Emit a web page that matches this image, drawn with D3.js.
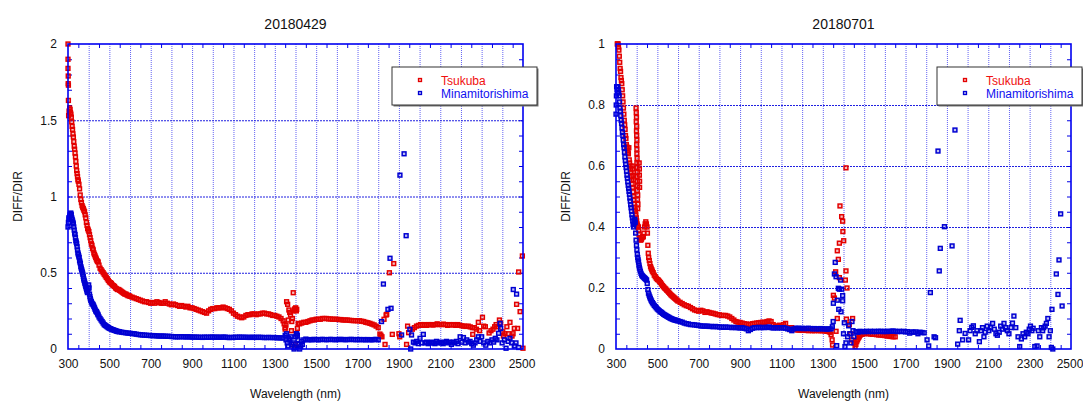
<!DOCTYPE html>
<html>
<head>
<meta charset="utf-8">
<script src="https://cdn.jsdelivr.net/npm/d3@7"></script>
<style>
body{margin:0;background:#fff;}
text{font-family:"Liberation Sans",Arial,sans-serif;fill:#111;}
</style>
</head>
<body>
<div id="chart"></div>
<script>
// DIFF/DIR ratio against wavelength, two observation days, two sites

const seriesNames = ['Tsukuba', 'Minamitorishima']
const seriesColors = ['#e30000', '#0000d2']
const xTicks = [300, 500, 700, 900, 1100, 1300, 1500, 1700, 1900, 2100, 2300, 2500]
const yTicks0429 = [0, 0.5, 1, 1.5, 2]
const yTicks0701 = [0, 0.2, 0.4, 0.6, 0.8, 1]

// 2018-04-29, Tsukuba  [nm, DIFF/DIR]
const tsukuba0429 = [
  [300,2.0],[300,1.9],[300,1.84],[301,1.79],[301,1.74],[302,1.73],[302,1.63],[303,1.53],
  [305,1.56],[308,1.58],[310,1.57],[312,1.55],[314,1.54],[316,1.52],[318,1.49],[320,1.46],[322,1.44],[324,1.41],
  [326,1.39],[328,1.36],[330,1.33],[332,1.31],[334,1.285],[336,1.26],[338,1.23],[340,1.2],[342,1.17],[344,1.15],
  [346,1.13],[348,1.11],[350,1.1],[353,1.08],[356,1.05],[359,1.01],[362,0.98],[365,0.96],[368,0.94],[371,0.93],
  [374,0.92],[377,0.91],[380,0.9],[383,0.88],[386,0.86],[389,0.83],[392,0.81],[395,0.79],[398,0.78],[401,0.77],
  [404,0.75],[407,0.73],[410,0.71],[413,0.69],[416,0.68],[419,0.66],[422,0.65],[425,0.63],[428,0.62],[431,0.61],
  [434,0.6],[437,0.59],[440,0.58],[443,0.575],[446,0.57],[450,0.55],[455,0.53],[460,0.52],[465,0.51],[470,0.5],
  [475,0.49],[480,0.48],[485,0.47],[490,0.46],[495,0.45],[500,0.44],[505,0.435],[510,0.43],[515,0.42],[520,0.415],
  [525,0.41],[530,0.4],[535,0.395],[540,0.39],[545,0.39],[550,0.385],[555,0.38],[560,0.375],[565,0.37],[570,0.365],
  [575,0.36],[580,0.36],[585,0.355],[590,0.35],[595,0.35],[600,0.345],[610,0.34],[620,0.335],[630,0.33],[640,0.325],
  [650,0.32],[660,0.315],[670,0.31],[680,0.31],[690,0.305],[700,0.3],[710,0.305],[720,0.3],[730,0.31],[740,0.305],
  [750,0.3],[760,0.3],[770,0.31],[780,0.3],[790,0.295],[800,0.29],[810,0.295],[820,0.29],[830,0.285],[840,0.28],
  [850,0.285],[860,0.28],[870,0.275],[880,0.28],[890,0.27],[900,0.27],[910,0.265],[920,0.26],[930,0.255],[940,0.25],
  [950,0.245],[960,0.24],[970,0.235],[980,0.25],[990,0.26],[1000,0.265],[1010,0.265],[1020,0.27],[1030,0.27],
  [1040,0.27],[1050,0.275],[1060,0.27],[1070,0.265],[1080,0.26],[1090,0.25],[1100,0.235],[1110,0.225],[1120,0.215],
  [1130,0.21],[1140,0.205],[1150,0.21],[1160,0.22],[1170,0.225],[1180,0.225],[1190,0.23],[1200,0.23],[1210,0.225],
  [1220,0.23],[1230,0.23],[1240,0.235],[1250,0.235],[1260,0.23],[1270,0.23],[1280,0.225],[1290,0.22],[1300,0.22],
  [1310,0.215],[1320,0.21],[1330,0.2],[1340,0.185],[1345,0.165],[1350,0.14],
  [1350,0.13],[1354,0.157],[1357,0.31],[1362,0.293],[1365,0.19],[1368,0.256],[1372,0.24],[1376,0.223],[1380,0.12],
  [1382,0.18],[1385,0.2],[1389,0.369],[1392,0.25],[1393,0.01],[1395,0.26],[1398,0.265],[1399,0.03],[1401,0.27],
  [1404,0.25],[1406,0.26],[1409,0.135],
  [1413,0.168],[1420,0.165],[1430,0.17],[1440,0.175],[1450,0.175],[1460,0.18],[1470,0.185],[1480,0.19],[1490,0.19],
  [1500,0.195],[1510,0.195],[1520,0.195],[1530,0.2],[1540,0.2],[1550,0.2],[1560,0.197],[1570,0.197],[1580,0.195],
  [1590,0.195],[1600,0.195],[1610,0.193],[1620,0.193],[1630,0.19],[1640,0.19],[1650,0.19],[1660,0.188],[1670,0.187],
  [1680,0.186],[1690,0.186],[1700,0.185],[1710,0.185],[1720,0.182],[1730,0.18],[1740,0.175],[1750,0.172],[1760,0.168],
  [1770,0.163],[1780,0.158],[1790,0.15],[1800,0.14],
  [1808,0.098],[1813,0.09],[1818,0.08],[1828,0.195],[1833,0.03],[1838,0.223],[1841,0.227],[1854,0.5],[1868,0.096],
  [1875,0.56],[1900,0.1],[1904,0.08],[1937,0.03],[1942,0.15],[1947,0.107],
  [1965,0.13],[1975,0.14],[1985,0.15],[1995,0.155],[2005,0.16],[2015,0.155],[2025,0.16],[2035,0.155],[2045,0.16],
  [2055,0.16],[2065,0.157],[2075,0.16],[2085,0.165],[2095,0.16],[2105,0.16],[2115,0.163],[2125,0.16],[2135,0.155],
  [2145,0.16],[2155,0.157],[2165,0.16],[2175,0.155],[2185,0.16],[2195,0.155],[2205,0.152],[2215,0.15],[2225,0.148],
  [2235,0.15],[2245,0.145],[2255,0.14],[2265,0.14],[2275,0.13],
  [2257,0.096],[2284,0.175],[2290,0.12],[2304,0.208],[2310,0.15],[2318,0.146],[2336,0.105],[2345,0.12],[2355,0.13],
  [2363,0.146],[2370,0.16],[2379,0.146],[2386,0.19],[2392,0.17],[2402,0.113],[2405,0.085],[2412,0.1],[2422,0.146],
  [2430,0.1],[2437,0.175],[2447,0.085],[2452,0.1],[2458,0.135],[2469,0.293],[2474,0.135],[2479,0.505],[2486,0.245],
  [2497,0.61],[2500,0.005]
]

// 2018-04-29, Minamitorishima
const minami0429 = [
  [300,0.8],[302,0.83],[304,0.86],[306,0.85],[308,0.87],[310,0.88],[312,0.89],[314,0.89],[316,0.88],[318,0.86],
  [320,0.85],[322,0.84],[324,0.83],[326,0.82],[328,0.8],[330,0.78],[332,0.76],[334,0.75],[336,0.73],[338,0.71],
  [340,0.7],[342,0.69],[344,0.67],[346,0.65],[348,0.63],[350,0.62],[352,0.61],[354,0.6],[356,0.58],[358,0.57],
  [360,0.56],[362,0.54],[364,0.53],[366,0.52],[368,0.51],[370,0.5],[372,0.49],[374,0.475],[376,0.46],[378,0.45],
  [380,0.44],[382,0.43],[384,0.42],[386,0.41],[388,0.4],[390,0.39],[392,0.38],[394,0.37],[396,0.38],[398,0.4],
  [400,0.42],[402,0.4],[404,0.36],[406,0.343],[408,0.33],[410,0.32],[413,0.31],[416,0.3],[419,0.295],[422,0.289],
  [425,0.28],[428,0.27],[431,0.26],[434,0.25],[437,0.245],[440,0.24],[443,0.23],[446,0.223],[450,0.21],[455,0.2],
  [460,0.19],[465,0.18],[470,0.17],[475,0.16],[480,0.155],[485,0.15],[490,0.145],[495,0.14],[500,0.136],[505,0.133],
  [510,0.13],[515,0.127],[520,0.125],[525,0.122],[530,0.12],[535,0.117],[540,0.115],[545,0.114],[550,0.113],
  [560,0.11],[570,0.108],[580,0.106],[590,0.104],[600,0.103],[610,0.101],[620,0.1],[630,0.097],[640,0.095],
  [650,0.093],[660,0.092],[670,0.091],[680,0.09],[690,0.089],[700,0.088],[710,0.088],[720,0.087],[730,0.086],
  [740,0.085],[750,0.085],[760,0.085],[770,0.084],[780,0.083],[790,0.083],[800,0.082],[810,0.081],[820,0.08],
  [830,0.08],[840,0.08],[850,0.081],[860,0.08],[870,0.079],[880,0.08],[890,0.079],[900,0.078],[910,0.078],
  [920,0.078],[930,0.077],[940,0.077],[950,0.076],[960,0.078],[970,0.077],[980,0.077],[990,0.078],[1000,0.078],
  [1010,0.077],[1020,0.078],[1030,0.077],[1040,0.077],[1050,0.078],[1060,0.078],[1070,0.076],[1080,0.075],
  [1090,0.076],[1100,0.076],[1110,0.077],[1120,0.077],[1130,0.078],[1140,0.077],[1150,0.077],[1160,0.077],
  [1170,0.076],[1180,0.076],[1190,0.077],[1200,0.076],[1210,0.076],[1220,0.077],[1230,0.076],[1240,0.076],
  [1250,0.075],[1260,0.075],[1270,0.076],[1280,0.075],[1290,0.075],[1300,0.075],[1310,0.074],[1320,0.073],
  [1330,0.073],[1340,0.072],
  [1350,0.09],[1354,0.06],[1357,0.1],[1360,0.04],[1365,0.02],[1368,0.07],[1373,0.06],[1378,0.08],[1382,0.03],
  [1389,0.04],[1393,0.0],[1397,0.01],[1401,0.08],[1404,0.1],[1406,0.1],[1409,0.09],[1412,0.06],[1416,0.03],
  [1420,0.0],[1425,0.015],[1429,0.05],[1433,0.03],
  [1440,0.06],[1450,0.065],[1460,0.06],[1470,0.062],[1480,0.06],[1490,0.063],[1500,0.062],[1510,0.06],[1520,0.062],
  [1530,0.063],[1540,0.062],[1550,0.061],[1560,0.062],[1570,0.063],[1580,0.062],[1590,0.061],[1600,0.062],
  [1610,0.062],[1620,0.063],[1630,0.062],[1640,0.061],[1650,0.062],[1660,0.062],[1670,0.063],[1680,0.062],
  [1690,0.061],[1700,0.062],[1710,0.062],[1720,0.061],[1730,0.062],[1740,0.06],[1750,0.062],[1760,0.061],
  [1770,0.06],[1780,0.062],[1789,0.063],[1800,0.06],
  [1816,0.18],[1825,0.426],[1847,0.26],[1857,0.595],[1862,0.267],[1905,1.14],[1913,0.092],[1925,1.28],[1935,0.743],
  [1953,0.129],[1957,0.0],[1961,0.092],
  [1970,0.045],[1978,0.04],[1986,0.05],[1994,0.035],[2002,0.07],[2010,0.04],[2018,0.096],[2026,0.04],[2034,0.045],
  [2042,0.035],[2050,0.04],[2058,0.045],[2066,0.04],[2074,0.035],[2082,0.05],[2090,0.04],[2098,0.045],[2106,0.04],
  [2114,0.035],[2122,0.045],[2130,0.05],[2138,0.04],[2146,0.045],[2154,0.03],[2162,0.045],[2170,0.04],[2178,0.05],
  [2186,0.035],[2196,0.08],[2204,0.045],[2212,0.075],[2220,0.04],[2228,0.06],[2236,0.045],
  [2244,0.05],[2252,0.035],[2260,0.025],[2268,0.04],[2276,0.06],[2284,0.08],[2292,0.05],[2300,0.08],[2310,0.04],
  [2320,0.025],[2330,0.05],[2340,0.04],[2350,0.06],[2358,0.045],[2366,0.07],[2374,0.06],[2382,0.103],[2389,0.168],
  [2392,0.135],[2399,0.04],[2410,0.06],[2418,0.005],[2428,0.05],[2437,0.07],[2445,0.04],[2453,0.39],[2458,0.02],
  [2466,0.04],[2469,0.36],[2479,0.01]
]

// 2018-07-01, Tsukuba
const tsukuba0701 = [
  [306,1.0],[308,1.0],[310,1.0],[312,0.99],[314,0.98],[316,0.96],[318,0.94],[320,0.92],[322,0.91],[324,0.89],
  [326,0.88],[328,0.87],[330,0.85],[332,0.83],[334,0.81],[336,0.79],[338,0.77],[340,0.75],[342,0.735],[344,0.72],
  [346,0.7],[348,0.69],[350,0.67],[352,0.663],[354,0.66],[356,0.65],[358,0.645],[360,0.64],[362,0.66],[364,0.62],
  [366,0.61],[368,0.6],[370,0.59],[372,0.58],[374,0.565],[376,0.554],[378,0.54],[380,0.53],[382,0.515],[384,0.5],
  [386,0.49],[388,0.475],[390,0.465],[392,0.456],[394,0.45],[396,0.44],[398,0.43],[400,0.42],[402,0.41],[404,0.405],
  [406,0.4],[408,0.4],[410,0.39],[412,0.375],[414,0.365],[416,0.36],[418,0.358],[420,0.357],[423,0.36],[426,0.365],
  [429,0.368],[432,0.368],[435,0.38],[438,0.4],[441,0.41],[444,0.417],[447,0.41],[450,0.4],[452,0.38],[454,0.34],
  [456,0.314],[458,0.3],[461,0.29],[464,0.28],[467,0.27],[470,0.265],[473,0.26],[476,0.255],[480,0.25],[485,0.242],
  [490,0.237],[495,0.232],[500,0.228],[505,0.226],[510,0.222],[515,0.218],[520,0.213],[525,0.208],[530,0.204],
  [535,0.2],[540,0.197],[545,0.193],[550,0.19],[555,0.186],[560,0.182],[565,0.178],[570,0.175],[575,0.172],
  [580,0.169],[585,0.166],[590,0.163],[595,0.16],[600,0.157],[610,0.153],[620,0.149],[630,0.145],[640,0.142],
  [650,0.14],[660,0.136],[670,0.132],[680,0.128],[690,0.126],[700,0.124],[710,0.127],[720,0.125],[730,0.12],
  [740,0.122],[750,0.12],[760,0.118],[770,0.117],[780,0.115],[790,0.113],[800,0.112],[810,0.11],[820,0.11],
  [830,0.11],[840,0.108],[850,0.105],[860,0.1],[870,0.095],[880,0.09],[890,0.088],[900,0.087],[910,0.085],
  [920,0.083],[930,0.082],[940,0.08],[950,0.081],[960,0.083],[970,0.084],[980,0.085],[990,0.086],[1000,0.087],
  [1010,0.088],[1020,0.087],[1030,0.09],[1040,0.092],[1050,0.09],[1060,0.08],[1070,0.075],[1080,0.075],[1090,0.078],
  [1100,0.075],[1110,0.08],[1120,0.084],[1130,0.07],[1140,0.064],[1150,0.07],[1160,0.065],[1170,0.063],[1180,0.062],
  [1190,0.062],[1200,0.061],[1210,0.062],[1220,0.061],[1230,0.06],[1240,0.061],[1250,0.06],[1260,0.06],[1270,0.061],
  [1280,0.06],[1290,0.06],[1300,0.06],[1310,0.059],[1320,0.058],[1330,0.057],[1335,0.055],[1340,0.047],[1345,0.03],
  [1347,0.013],
  [397,0.79],[398,0.775],[399,0.76],[398,0.745],[400,0.73],[399,0.715],[400,0.7],[401,0.685],[400,0.67],[401,0.655],
  [401,0.64],[402,0.625],[401,0.61],[402,0.595],[403,0.58],[402,0.565],[403,0.55],[404,0.535],[403,0.52],[405,0.505],
  [404,0.49],[406,0.475],[405,0.46],[412,0.61],[413,0.59],[413,0.57],[414,0.55],[414,0.53],
  [378,0.6],[380,0.59],[382,0.57],[385,0.555],
  [1351,0.176],[1356,0.167],[1362,0.253],[1364,0.058],[1370,0.322],[1370,0.1],[1375,0.294],[1380,0.347],[1380,0.234],
  [1383,0.469],[1391,0.434],[1396,0.419],[1397,0.385],[1401,0.355],[1409,0.226],[1412,0.594],[1412,0.256],
  [1414,0.098],[1417,0.2],[1428,0.08],[1435,0.05],[1440,0.03],[1444,0.1],[1450,0.02],
  [1456,0.008],[1460,0.015],[1464,0.024],[1468,0.03],[1472,0.036],[1476,0.04],[1480,0.045],[1490,0.048],[1500,0.05],
  [1510,0.051],[1520,0.05],[1530,0.049],[1540,0.048],[1550,0.048],[1560,0.047],[1570,0.046],[1580,0.046],
  [1590,0.045],[1600,0.044],[1610,0.043],[1620,0.042],[1630,0.041],[1640,0.04],[1650,0.04]
]

// 2018-07-01, Minamitorishima
const minami0701 = [
  [300,0.77],[301,0.8],[302,0.83],[303,0.86],[305,0.85],[307,0.84],[309,0.86],[311,0.85],[313,0.84],[315,0.83],
  [317,0.81],[319,0.79],[321,0.78],[323,0.765],[325,0.75],[327,0.74],[329,0.725],[331,0.71],[333,0.7],[335,0.685],
  [337,0.67],[339,0.66],[341,0.645],[343,0.63],[345,0.618],[347,0.605],[349,0.595],[351,0.583],[353,0.57],
  [355,0.56],[357,0.548],[359,0.537],[361,0.527],[363,0.517],[365,0.507],[367,0.495],[369,0.485],[371,0.473],
  [373,0.463],[375,0.452],[377,0.44],[379,0.43],[381,0.42],[383,0.408],[385,0.4],[387,0.41],[389,0.42],[391,0.425],
  [393,0.415],[395,0.38],[397,0.357],[399,0.34],[401,0.325],[403,0.31],[405,0.3],[407,0.292],[409,0.285],[411,0.275],
  [413,0.268],[415,0.262],[418,0.255],[421,0.248],[424,0.243],[427,0.24],[430,0.238],[433,0.236],[436,0.234],
  [439,0.232],[442,0.23],[445,0.228],[448,0.226],[451,0.215],[454,0.195],[457,0.183],[460,0.177],[463,0.171],
  [466,0.166],[469,0.161],[472,0.157],[476,0.152],[480,0.148],[485,0.143],[490,0.139],[495,0.135],[500,0.131],
  [505,0.128],[510,0.125],[515,0.122],[520,0.12],[525,0.117],[530,0.114],[535,0.112],[540,0.11],[545,0.108],
  [550,0.106],[555,0.104],[560,0.102],[565,0.1],[570,0.099],[575,0.097],[580,0.096],[585,0.095],[590,0.094],
  [595,0.093],[600,0.092],[610,0.09],[620,0.088],[630,0.085],[640,0.083],[650,0.082],[660,0.08],[670,0.08],
  [680,0.079],[690,0.078],[700,0.077],[710,0.076],[720,0.075],[730,0.075],[740,0.075],[750,0.074],[760,0.074],
  [770,0.073],[780,0.074],[790,0.073],[800,0.072],[810,0.072],[820,0.071],[830,0.072],[840,0.071],[850,0.071],
  [860,0.07],[870,0.071],[880,0.07],[890,0.07],[900,0.069],[910,0.07],[920,0.068],[930,0.066],[940,0.06],
  [950,0.064],[960,0.068],[970,0.07],[980,0.07],[990,0.071],[1000,0.07],[1010,0.071],[1020,0.07],[1030,0.071],
  [1040,0.072],[1050,0.07],[1060,0.069],[1070,0.07],[1080,0.069],[1090,0.07],[1100,0.069],[1110,0.07],[1120,0.068],
  [1130,0.066],[1140,0.064],[1150,0.06],[1160,0.066],[1170,0.068],[1180,0.068],[1190,0.067],[1200,0.068],
  [1210,0.067],[1220,0.067],[1230,0.068],[1240,0.067],[1250,0.066],[1260,0.067],[1270,0.066],[1280,0.066],
  [1290,0.067],[1300,0.066],[1310,0.066],[1320,0.065],[1330,0.066],[1340,0.066],
  [1346,0.073],[1350,0.09],[1351,0.15],[1356,0.246],[1360,0.284],[1364,0.237],[1367,0.011],[1370,0.16],[1375,0.199],
  [1377,0.13],[1380,0.196],[1386,0.226],[1388,0.122],[1391,0.196],[1396,0.175],[1396,0.158],[1400,0.05],
  [1404,0.086],[1407,0.008],[1412,0.02],[1420,0.04],[1425,0.076],[1430,0.05],[1436,0.02],[1441,0.09],[1446,0.06],
  [1450,0.04],
  [1460,0.057],[1470,0.055],[1480,0.058],[1490,0.057],[1500,0.057],[1510,0.058],[1520,0.057],[1530,0.058],
  [1540,0.057],[1550,0.058],[1560,0.057],[1570,0.058],[1580,0.058],[1590,0.057],[1600,0.058],[1610,0.057],
  [1620,0.058],[1630,0.058],[1640,0.059],[1650,0.058],[1660,0.057],[1670,0.058],[1680,0.057],[1690,0.058],
  [1700,0.056],[1710,0.057],[1720,0.052],[1730,0.056],[1740,0.055],[1750,0.056],[1760,0.05],[1770,0.055],
  [1780,0.054],[1790,0.053],
  [1804,0.03],[1812,0.01],[1820,0.185],[1838,0.04],[1845,0.037],[1857,0.649],[1863,0.256],[1868,0.33],[1888,0.401],
  [1925,0.338],[1939,0.718],[1952,0.016],[1960,0.06],[1964,0.094],[1976,0.03],[1988,0.051],[2005,0.03],[2012,0.06],
  [2020,0.071],[2028,0.076],[2037,0.05],[2045,0.06],[2057,0.024],[2065,0.06],[2072,0.07],[2079,0.04],[2085,0.055],
  [2095,0.075],[2103,0.06],[2111,0.07],[2121,0.084],[2129,0.065],[2137,0.05],[2144,0.045],[2153,0.055],[2160,0.075],
  [2168,0.065],[2176,0.084],[2184,0.07],[2192,0.06],[2200,0.05],[2210,0.07],[2217,0.085],[2224,0.108],[2233,0.07],
  [2244,0.04],[2252,0.008],[2260,0.033],[2268,0.05],[2276,0.04],[2284,0.055],[2292,0.05],[2298,0.065],[2304,0.075],
  [2311,0.06],[2317,0.068],[2325,0.008],[2336,0.01],[2342,0.06],[2349,0.04],[2357,0.07],[2363,0.06],[2368,0.07],
  [2375,0.075],[2381,0.084],[2388,0.1],[2394,0.04],[2400,0.06],[2405,0.005],[2408,0.13],[2412,0.0],[2429,0.246],
  [2437,0.179],[2442,0.292],[2450,0.443],[2457,0.141]
]

const W = 1083, H = 401
const plotW = 455, plotH = 305, plotTop = 44

const svg = d3.select('#chart').append('svg')
  .attr('width', W)
  .attr('height', H)
svg.append('rect').attr('width', W).attr('height', H).attr('fill', '#fff')

function drawPanel(left, title, yMax, yTicks, yMinor, series, legendX, id){
  const x = d3.scaleLinear().domain([300, 2500]).range([0, plotW])
  const y = d3.scaleLinear().domain([0, yMax]).range([plotH, 0])

  const g = svg.append('g')
    .attr('transform', 'translate(' + left + ',' + plotTop + ')')

  // vertical grid every 100 nm
  g.append('g')
    .attr('class', 'gridX')
    .attr('transform', 'translate(0,' + plotH + ')')
    .call(d3.axisBottom(x).tickValues(d3.range(400, 2500, 100)).tickSize(-plotH).tickFormat(''))
    .call(a => a.select('.domain').remove())
    .selectAll('line')
      .attr('stroke', '#3c3cf0')
      .attr('stroke-opacity', 0.8)
      .attr('stroke-dasharray', '1,1')

  // horizontal grid on labelled values
  g.append('g')
    .attr('class', 'gridY')
    .call(d3.axisLeft(y).tickValues(yTicks.slice(1, -1)).tickSize(-plotW).tickFormat(''))
    .call(a => a.select('.domain').remove())
    .selectAll('line')
      .attr('stroke', '#1f1fe0')
      .attr('stroke-dasharray', '2,1')

  // small inner ticks
  const minorX = d3.range(350, 2500, 100)
  g.append('g')
    .attr('transform', 'translate(0,' + plotH + ')')
    .call(d3.axisBottom(x).tickValues(minorX).tickSize(-4).tickFormat(''))
    .call(a => a.select('.domain').remove())
    .selectAll('line').attr('stroke', '#0000e6')
  g.append('g')
    .call(d3.axisTop(x).tickValues(minorX).tickSize(-4).tickFormat(''))
    .call(a => a.select('.domain').remove())
    .selectAll('line').attr('stroke', '#0000e6')
  g.append('g')
    .call(d3.axisLeft(y).tickValues(yMinor).tickSize(-4).tickFormat(''))
    .call(a => a.select('.domain').remove())
    .selectAll('line').attr('stroke', '#0000e6')
  g.append('g')
    .attr('transform', 'translate(' + plotW + ',0)')
    .call(d3.axisRight(y).tickValues(yMinor).tickSize(-4).tickFormat(''))
    .call(a => a.select('.domain').remove())
    .selectAll('line').attr('stroke', '#0000e6')

  // points, drawn as small open squares
  g.append('clipPath').attr('id', 'clip' + id)
    .append('rect')
    .attr('x', -3).attr('y', -3)
    .attr('width', plotW + 6).attr('height', plotH + 6)

  const pts = g.append('g').attr('clip-path', 'url(#clip' + id + ')')
  series.forEach((s, i) => {
    pts.append('g')
      .selectAll('rect')
      .data(s)
      .join('rect')
        .attr('x', d => x(d[0]) - 1.9)
        .attr('y', d => y(d[1]) - 1.9)
        .attr('width', 3.8)
        .attr('height', 3.8)
        .attr('fill', seriesColors[i])
        .attr('fill-opacity', 0.25)
        .attr('stroke', seriesColors[i])
        .attr('stroke-width', 1.5)
  })

  // frame
  g.append('rect')
    .attr('width', plotW)
    .attr('height', plotH)
    .attr('fill', 'none')
    .attr('stroke', '#0000f0')
    .attr('stroke-width', 1.6)

  // tick labels
  g.append('g')
    .attr('transform', 'translate(0,' + plotH + ')')
    .call(d3.axisBottom(x).tickValues(xTicks).tickSize(0).tickPadding(10).tickFormat(d3.format('d')))
    .call(a => a.select('.domain').remove())
    .selectAll('text')
      .style('font-size', '12px')
      .style('font-family', '"Liberation Sans", Arial, sans-serif')
      .attr('fill', '#111')
      .attr('dx', d => d == 2500 ? -1.5 : 0)
  g.append('g')
    .call(d3.axisLeft(y).tickValues(yTicks).tickSize(0).tickPadding(11).tickFormat(d => String(d)))
    .call(a => a.select('.domain').remove())
    .selectAll('text')
      .style('font-size', '12px')
      .style('font-family', '"Liberation Sans", Arial, sans-serif')
      .attr('fill', '#111')

  g.append('text')
    .attr('x', plotW / 2)
    .attr('y', -15)
    .attr('text-anchor', 'middle')
    .style('font-size', '14px')
    .text(title)

  g.append('text')
    .attr('x', plotW / 2)
    .attr('y', 354)
    .attr('text-anchor', 'middle')
    .style('font-size', '12px')
    .text('Wavelength (nm)')

  g.append('text')
    .attr('transform', 'translate(-46,' + plotH / 2 + ') rotate(-90)')
    .attr('text-anchor', 'middle')
    .style('font-size', '12px')
    .text('DIFF/DIR')

  // legend box
  const lg = svg.append('g')
    .attr('transform', 'translate(' + legendX + ',67)')
  lg.append('rect')
    .attr('x', 1.5).attr('y', 1.5)
    .attr('width', 145).attr('height', 38)
    .attr('fill', '#777')
  lg.append('rect')
    .attr('width', 145).attr('height', 38)
    .attr('fill', '#fff')
    .attr('stroke', '#333')
    .attr('stroke-width', 1)
  seriesNames.forEach((name, i) => {
    lg.append('rect')
      .attr('x', 26.5).attr('y', 11.5 + i * 13)
      .attr('width', 3).attr('height', 3)
      .attr('fill', seriesColors[i])
      .attr('fill-opacity', 0.25)
      .attr('stroke', seriesColors[i])
      .attr('stroke-width', 1.3)
    lg.append('text')
      .attr('x', 49)
      .attr('y', 17.5 + i * 13)
      .style('font-size', '12px')
      .style('fill', i == 0 ? '#f01010' : '#1010f0')
      .text(name)
  })
}

drawPanel(68, '20180429', 2, yTicks0429, d3.range(1, 20).map(k => k / 10),
  [tsukuba0429, minami0429], 392, 'a')
drawPanel(616, '20180701', 1, yTicks0701, d3.range(1, 20).map(k => k / 20),
  [tsukuba0701, minami0701], 937, 'b')
</script>
</body>
</html>
